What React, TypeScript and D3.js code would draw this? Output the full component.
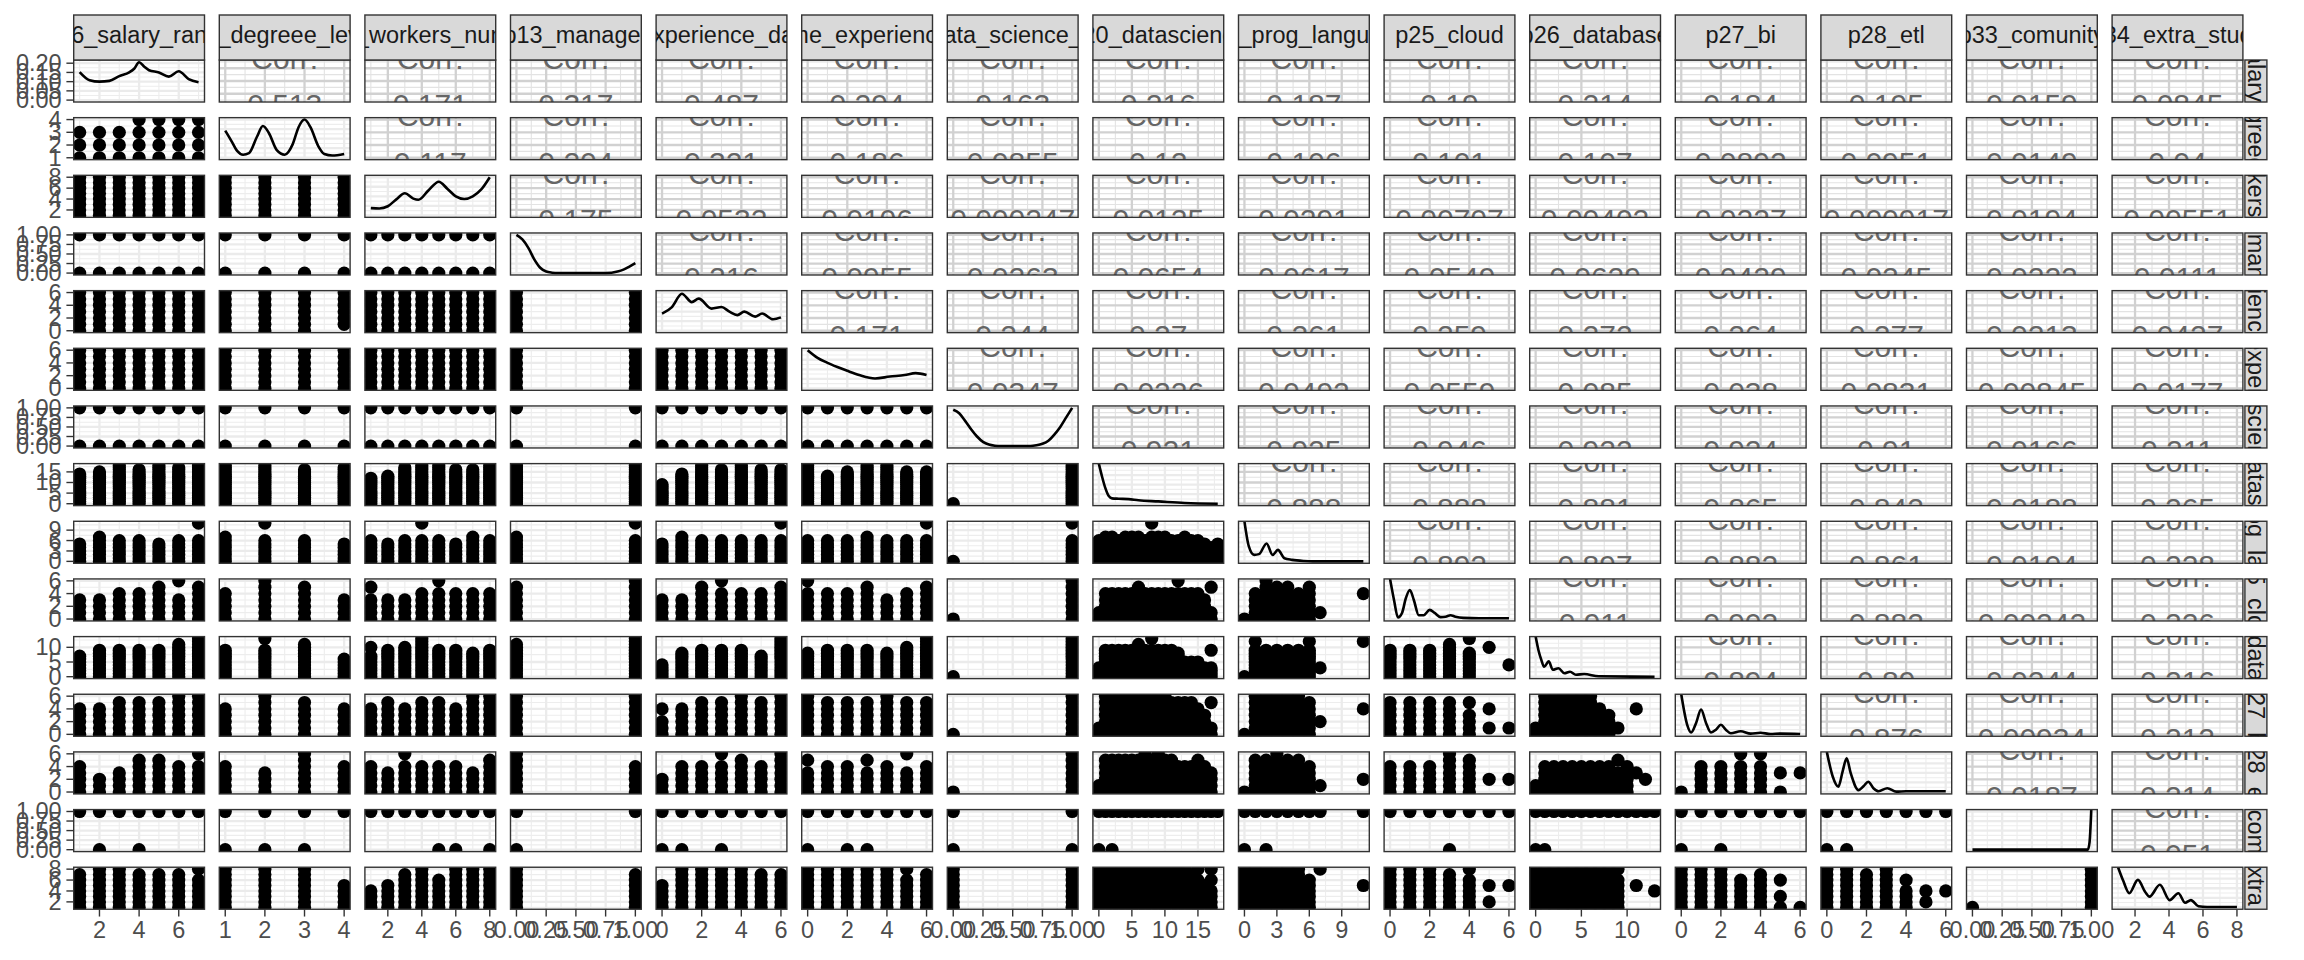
import React from "react";
import * as d3 from "d3";

// ---- variables (facet order) ----
const varNames = [
  "p16_salary_range", "p8_degreee_level", "p10_workers_number", "p13_manager",
  "p17_experience_data_sci", "p14_time_experience_data", "p19_data_science_profes",
  "p20_datascience", "p21_prog_language", "p25_cloud", "p26_database", "p27_bi",
  "p28_etl", "p33_comunity", "p34_extra_study",
];
const varMin = [1, 1, 1, 0, 0, 0, 0, 0, 0, 0, 0, 0, 0, 0, 1];
const varMax = [7, 4, 8, 1, 6, 6, 1, 18, 11, 6, 13, 6, 6, 1, 8];
const varBreaks = [
  [2, 4, 6], [1, 2, 3, 4], [2, 4, 6, 8], [0, 0.25, 0.5, 0.75, 1],
  [0, 2, 4, 6], [0, 2, 4, 6], [0, 0.25, 0.5, 0.75, 1], [0, 5, 10, 15],
  [0, 3, 6, 9], [0, 2, 4, 6], [0, 5, 10], [0, 2, 4, 6], [0, 2, 4, 6],
  [0, 0.25, 0.5, 0.75, 1], [2, 4, 6, 8],
];
const salaryDensityTicks = [0, 0.05, 0.1, 0.15, 0.2];
const salaryDensityMax = 0.207;
const diagBreaks = [0, 0.25, 0.5, 0.75, 1];

// ---- upper triangle: correlations ----
const corrRow1 = ["0.513", "0.171", "0.317", "0.487", "0.294", "0.163", "0.216", "0.187", "0.19", "0.214", "0.184", "0.195", "0.0159", "0.0845"];
const corrRow2 = ["0.117", "0.204", "0.321", "0.186", "0.0855", "0.12", "0.106", "0.101", "0.107", "0.0892", "0.0951", "0.0149", "0.04"];
const corrRow3 = ["0.175", "0.0532", "0.0106", "0.000247", "0.0125", "0.0291", "0.00707", "0.00402", "0.0227", "0.000917", "0.0194", "0.00551"];
const corrRow4 = ["0.216", "0.0955", "0.0263", "0.0654", "0.0617", "0.0549", "0.0629", "0.0429", "0.0245", "0.0222", "0.0111"];
const corrRow5 = ["0.171", "0.244", "0.27", "0.261", "0.259", "0.272", "0.264", "0.277", "0.0213", "0.0427"];
const corrRow6 = ["0.0347", "0.0226", "0.0492", "0.0559", "0.085", "0.038", "0.0831", "0.00845", "0.0177"];
const corrRow7 = ["0.921", "0.925", "0.946", "0.922", "0.924", "0.91", "0.0166", "0.211"];
const corrRow8 = ["0.888", "0.888", "0.881", "0.865", "0.842", "0.0188", "0.265"];
const corrRow9 = ["0.892", "0.897", "0.882", "0.861", "0.0104", "0.228"];
const corrRow10 = ["0.911", "0.902", "0.882", "0.00242", "0.226"];
const corrRow11 = ["0.894", "0.89", "0.0244", "0.216"];
const corrRow12 = ["0.876", "0.00934", "0.212"];
const corrRow13 = ["0.0187", "0.214"];
const corrRow14 = ["0.051"];
const corrRows = [corrRow1, corrRow2, corrRow3, corrRow4, corrRow5, corrRow6, corrRow7, corrRow8, corrRow9, corrRow10, corrRow11, corrRow12, corrRow13, corrRow14];

// ---- lower triangle: observed y values per x value ----
// token per x value: "n" = min..n, "a-b" = range, "+k" = extra value, "x" = none
const lowerDegree = ["3,3,3,4,4,4,4"];
const lowerWorkers = ["8,8,8,8,8,8,8", "8,8,8,8"];
const lowerManager = ["1,1,1,1,1,1,1", "1,1,1,1", "1,1,1,1,1,1,1,1"];
const lowerExpData = ["6,6,6,6,6,6,6", "6,6,6,1-6", "6,6,6,6,6,6,6,6", "6,6"];
const lowerExp = ["6,6,6,6,6,6,6", "6,6,6,6", "6,6,6,6,6,6,6,6", "6,6", "6,6,6,6,6,6,6"];
const lowerDsProf = ["1,1,1,1,1,1,1", "1,1,1,1", "1,1,1,1,1,1,1,1", "1,1", "1,1,1,1,1,1,1", "1,1,1,1,1,1,1"];
const lowerDatascience = ["14,15,18,16,18,17,18", "18,18,16,17", "12,13,17,18,18,16,16,18", "18,18", "9,14,18,16,18,16,16", "18,13,15,18,18,15,15", "0,18"];
const lowerProg = ["5,7,6,6,5,6,6+11", "7,6+11,6,5", "6,5,6,6+11,6,5,7,6", "7,6+11", "5,7,6,6,6,6,6+11", "6,6,6,7,6,6,6+11", "0,6+11",
  "6,7,7,6,7,7,7,6,7+11,7,7,6,6,7,6,6,5,4,5"];
const lowerCloud = ["3,3,4,4,5,3+6,5", "4,6,5,3", "3+5,3,3,4,4+6,4,4,4", "5,6", "3,3,5,4+6,4,4,5", "4+6,4,4,5,3,4,5", "0,6",
  "1,4,4,4,4,4,5,4,4,4,4,4,4+6,4,4,4,3,1+5,x", "0,4,6,5,5,4,5,1-1,x,x,x,4-4"];
const lowerDatabase = ["7,9,9,9,9,11,13", "9,9+13,11,6", "7+10,9,10,13,9,9,8,9", "11,13", "4,8,9,9,9,7,13", "8,9,9,9,8,10,13", "0,13",
  "3,9,9,9,9,9,9+11,9,9+13,9,9,9,8,5,5,5,3,3+9,x", "0,9+12,9,9,9,9,9+12,3-3,x,x,x,12-12", "9,9,9,11,8+13,10-10,4-4"];
const lowerBi = ["4,4,5,5,5,6,6", "4,6,5,4", "4,5,4,5,5,4,6,6", "6,6", "2+4,4,5,5,6,5,6", "6,5,5,5,6,5,5", "0,6",
  "1,6,6,6,6,6,6,6,6,6,6,5,5,5,5,4,3,1+5,x", "0,6,6,6,6,6,5,2-2,x,x,x,4-4", "5,5,5,5,3+5,1-1+4,1-1",
  "1,6,6,6,6,6,6,4,3,1-1,x,4-4,x,x"];
const lowerEtl = ["4,2,3,5,5,4,4+6", "4,3,6,4", "4,3,4+6,4,4,4,3,5", "6,4", "2,4,4,4+6,5,4,6", "3+5,4,4,3+5,4,3+6,4", "0,6",
  "1,5,5,5,5,5,5,5+6,5,6,5,5,4,4,4,5,4,3,x", "0,5,5,6,5,5,4,1-1,x,x,x,2-2", "4,4,4,6,5,2-2,2-2",
  "1,4,4,4,4,4,4,4,4,3+5,4,3-3,2-2,x", "0,4,4,4+6,4+6,0+3,3-3"];
const lowerCommunity = ["1-1,1,1-1,1,1-1,1-1,1-1", "1,1,1,1-1", "1-1,1-1,1-1,1-1,1,1,1-1,1", "1,1-1", "1,1,1-1,1,1-1,1-1,1-1",
  "1,1-1,1,1,1-1,1-1,1-1", "1,1",
  "1,1-1,1,1-1,1-1,1-1,1-1,1-1,1-1,1-1,1-1,1-1,1-1,1-1,1-1,1-1,1-1,1-1,1-1",
  "1,1-1,1,1-1,1-1,1-1,1-1,1-1,x,x,x,1-1", "1-1,1-1,1-1,1,1-1,1-1,1-1",
  "1,1,1-1,1-1,1-1,1-1,1-1,1-1,1-1,1-1,1-1,1-1,1-1,1-1", "1,1-1,1,1-1,1-1,1-1,1-1", "1,1,1-1,1-1,1-1,1-1,1-1"];
const lowerExtra = ["7,8,8,7,7,7,6+8", "8,8,8,5", "4,5,7,8,6,8,8,8", "8,7", "5,8,8,8,8,7,7", "8,8,8,8,8,6+8,7", "8,8",
  "8,8,8,8,8,8,8,8,8,8,8,8,8,8,7,6+8,5,4+6+8,x", "8,8,8,8,8,8,6,8-8,x,x,x,5-5", "8,8,8,7,6+8,2-2+5,5-5",
  "8,8,8,8,8,8,8,8,8,6+8,x,5-5,x,4-4", "8,8,8,6,7,1+3+6,1", "8,8,7,8,4+6,2-2+4,4-4", "1,8"];
const lowerRows: (string[] | null)[] = [null, lowerDegree, lowerWorkers, lowerManager, lowerExpData, lowerExp, lowerDsProf,
  lowerDatascience, lowerProg, lowerCloud, lowerDatabase, lowerBi, lowerEtl, lowerCommunity, lowerExtra];

// ---- diagonal densities: [x, density] (first in real units, others relative to max) ----
const densSalary = [[1, 0.152], [1.5, 0.108], [2, 0.1], [2.5, 0.104], [3, 0.13], [3.5, 0.15], [3.75, 0.17], [4, 0.205], [4.25, 0.182], [4.5, 0.162], [5, 0.15], [5.5, 0.127], [6, 0.156], [6.5, 0.114], [7, 0.097]];
const densDegree = [[1, 0.71], [1.15, 0.45], [1.3, 0.18], [1.45, 0.08], [1.6, 0.12], [1.8, 0.55], [1.95, 0.83], [2.1, 0.65], [2.3, 0.2], [2.5, 0.08], [2.7, 0.35], [2.85, 0.8], [3, 1.0], [3.15, 0.8], [3.35, 0.3], [3.5, 0.1], [3.7, 0.06], [4, 0.1]];
const densWorkers = [[1, 0.19], [1.5, 0.18], [2, 0.24], [2.5, 0.42], [3, 0.58], [3.5, 0.44], [3.8, 0.41], [4.4, 0.66], [5, 0.88], [5.5, 0.7], [6, 0.5], [6.5, 0.43], [7, 0.5], [7.5, 0.68], [8, 1.0]];
const densManager = [[0, 1.0], [0.05, 0.88], [0.1, 0.66], [0.15, 0.36], [0.2, 0.14], [0.25, 0.04], [0.3, 0.01], [0.35, 0], [0.7, 0], [0.8, 0.01], [0.85, 0.04], [0.9, 0.09], [0.95, 0.17], [1, 0.26]];
const densExpData = [[0, 0.45], [0.5, 0.62], [1, 0.97], [1.5, 0.75], [1.85, 0.84], [2.5, 0.58], [3, 0.62], [3.4, 0.5], [3.8, 0.41], [4.15, 0.5], [4.7, 0.37], [5.05, 0.45], [5.6, 0.3], [6, 0.35]];
const densExp = [[0, 1.0], [0.5, 0.8], [1, 0.67], [1.5, 0.56], [2, 0.46], [2.6, 0.35], [3.4, 0.26], [4.15, 0.31], [4.9, 0.35], [5.45, 0.4], [6, 0.35]];
const densDsProf = [[0, 0.95], [0.05, 0.86], [0.1, 0.66], [0.15, 0.44], [0.2, 0.25], [0.25, 0.11], [0.3, 0.04], [0.35, 0.01], [0.4, 0], [0.65, 0], [0.7, 0.02], [0.75, 0.06], [0.8, 0.14], [0.85, 0.3], [0.9, 0.5], [0.95, 0.75], [1, 1.0]];
const densDatascience = [[0, 1.05], [0.5, 0.7], [1, 0.4], [1.5, 0.2], [2, 0.14], [3, 0.13], [4.5, 0.12], [6, 0.09], [9, 0.06], [13, 0.02], [18, 0.0]];
const densProg = [[0, 1.05], [0.4, 0.4], [0.9, 0.17], [1.35, 0.19], [2.05, 0.47], [2.6, 0.17], [3.1, 0.3], [3.7, 0.08], [4.4, 0.04], [5.5, 0.01], [6.3, 0], [11, 0]];
const densCloud = [[0, 1.05], [0.2, 0.5], [0.4, 0.04], [0.6, 0.15], [0.8, 0.55], [1.0, 0.76], [1.2, 0.5], [1.45, 0.1], [1.7, 0.1], [2.0, 0.24], [2.25, 0.16], [2.55, 0.05], [2.8, 0.06], [3.05, 0.1], [3.3, 0.06], [3.7, 0.03], [4.5, 0.02], [6, 0.02]];
const densDatabase = [[0, 1.05], [0.3, 0.7], [0.62, 0.44], [0.93, 0.26], [1.43, 0.4], [1.88, 0.18], [2.5, 0.22], [3.14, 0.09], [3.76, 0.13], [4.4, 0.05], [5.3, 0.07], [6.9, 0.01], [13, 0]];
const densBi = [[0, 1.05], [0.3, 0.25], [0.5, 0.05], [0.75, 0.3], [1, 0.65], [1.25, 0.3], [1.5, 0.05], [1.75, 0.12], [2, 0.25], [2.25, 0.12], [2.5, 0.03], [3, 0.08], [3.5, 0.02], [4, 0.04], [4.5, 0.01], [5, 0.02], [6, 0.01]];
const densEtl = [[0, 1.05], [0.3, 0.4], [0.58, 0.14], [0.8, 0.55], [1.0, 0.88], [1.2, 0.5], [1.6, 0.05], [1.85, 0.15], [2.09, 0.27], [2.35, 0.1], [2.61, 0.02], [3.05, 0.1], [3.5, 0.01], [4, 0.02], [6, 0.02]];
const densCommunity = [[0, 0], [0.97, 0], [0.985, 0.2], [1, 1.1]];
const densExtra = [[1, 1.05], [1.3, 0.7], [1.66, 0.37], [2.17, 0.72], [2.6, 0.4], [2.85, 0.28], [3.46, 0.59], [4.04, 0.19], [4.55, 0.37], [4.95, 0.12], [5.29, 0.19], [5.73, 0.03], [6.25, 0.01], [8, 0.01]];
const diagDensities = [densSalary, densDegree, densWorkers, densManager, densExpData, densExp, densDsProf, densDatascience,
  densProg, densCloud, densDatabase, densBi, densEtl, densCommunity, densExtra];

// ---- layout ----
const W = 2304, H = 960;
const LEFT = 73.7, TOP = 60, PW = 130.8, PH = 42, GX = 14.8, GY = 15.66;
const FONT = "'Liberation Sans', Arial, Helvetica, sans-serif";
const AXIS_FS = 23.5, STRIP_FS = 23.5, CORR_FS = 30;
const POINT_R = 6.6;

function parseColumn(tok: string, lo: number): number[] {
  if (tok === "x" || tok === "") return [];
  const out: number[] = [];
  tok.split("+").forEach((p, k) => {
    let a: number, b: number;
    if (p.includes("-")) { const s = p.split("-").map(Number); a = s[0]; b = s[1]; }
    else if (k === 0) { a = lo; b = +p; }
    else { a = +p; b = +p; }
    for (let v = a; v <= b; v++) out.push(v);
  });
  return out;
}

function minorBreaks(breaks: number[], dom: number[]): number[] {
  if (breaks.length < 2) return [];
  const step = breaks[1] - breaks[0];
  const out: number[] = [];
  for (let v = breaks[0] - step / 2; v <= dom[1] + 1e-9; v += step) if (v >= dom[0] - 1e-9) out.push(v);
  return out;
}

const pad = (lo: number, hi: number) => { const p = (hi - lo) * 0.05; return [lo - p, hi + p]; };

export default function App() {
  const n = varNames.length;
  const colX = (j: number) => LEFT + j * (PW + GX);
  const rowY = (i: number) => TOP + i * (PH + GY);
  const xs = varNames.map((_, j) => d3.scaleLinear().domain(pad(varMin[j], varMax[j])).range([colX(j), colX(j) + PW]));
  const ys = varNames.map((_, i) => d3.scaleLinear().domain(pad(varMin[i], varMax[i])).range([rowY(i) + PH, rowY(i)]));
  const dys = varNames.map((_, i) => d3.scaleLinear().domain(i === 0 ? pad(0, salaryDensityMax) : pad(0, 1)).range([rowY(i) + PH, rowY(i)]));
  const fmt = (k: number, v: number) => (varMax[k] - varMin[k] === 1 ? d3.format(".2f")(v) : String(v));
  const stripRightX = colX(n - 1) + PW + 2;
  const stripRightW = 22;

  const defs: React.ReactNode[] = [];
  const panels: React.ReactNode[] = [];

  for (let i = 0; i < n; i++) {
    for (let j = 0; j < n; j++) {
      const x0 = colX(j), y0 = rowY(i);
      const id = `clip-${i}-${j}`;
      defs.push(<clipPath id={id} key={id}><rect x={x0} y={y0} width={PW} height={PH} /></clipPath>);
      const xsc = xs[j];
      const ysc = i === j ? dys[i] : ys[i];
      const yb = i === j ? (i === 0 ? salaryDensityTicks : diagBreaks) : varBreaks[i];
      const upper = j > i;
      const majC = upper ? "#D1D1D1" : "#EBEBEB";
      const minC = upper ? "#E3E3E3" : "#EDEDED";
      const content: React.ReactNode[] = [];

      if (i === j) {
        const line = d3.line<number[]>().x(d => xsc(d[0])).y(d => ysc(d[1])).curve(d3.curveMonotoneX);
        content.push(<path key="d" d={line(diagDensities[i]) || ""} fill="none" stroke="#000" strokeWidth={2.6} />);
      } else if (i > j) {
        const toks = (lowerRows[i] as string[])[j].split(",");
        toks.forEach((t, k) => {
          const xv = varMin[j] + k;
          parseColumn(t, varMin[i]).forEach(yv => {
            content.push(<circle key={`${k}-${yv}`} cx={xsc(xv)} cy={ysc(yv)} r={POINT_R} fill="#000" />);
          });
        });
      } else {
        const cx = x0 + PW / 2, cy = y0 + PH / 2;
        const val = corrRows[i][j - i - 1];
        content.push(
          <text key="c1" x={cx} y={cy - 12.5} textAnchor="middle" fontSize={CORR_FS} fill="#666">Corr:</text>,
          <text key="c2" x={cx} y={cy + 34} textAnchor="middle" fontSize={CORR_FS} fill="#666">{val}</text>
        );
      }

      panels.push(
        <g key={id}>
          <rect x={x0} y={y0} width={PW} height={PH} fill="#fff" />
          <g clipPath={`url(#${id})`}>
            {minorBreaks(varBreaks[j], xsc.domain()).map(v => <line key={"mx" + v} x1={xsc(v)} x2={xsc(v)} y1={y0} y2={y0 + PH} stroke={minC} strokeWidth={1.1} />)}
            {minorBreaks(yb, ysc.domain()).map(v => <line key={"my" + v} x1={x0} x2={x0 + PW} y1={ysc(v)} y2={ysc(v)} stroke={minC} strokeWidth={1.1} />)}
            {varBreaks[j].map(v => <line key={"Mx" + v} x1={xsc(v)} x2={xsc(v)} y1={y0} y2={y0 + PH} stroke={majC} strokeWidth={2.3} />)}
            {yb.map(v => <line key={"My" + v} x1={x0} x2={x0 + PW} y1={ysc(v)} y2={ysc(v)} stroke={majC} strokeWidth={2.3} />)}
            {content}
          </g>
          <rect x={x0} y={y0} width={PW} height={PH} fill="none" stroke="#333" strokeWidth={1.4} />
        </g>
      );
    }
  }

  // strips
  const strips: React.ReactNode[] = [];
  for (let j = 0; j < n; j++) {
    const x0 = colX(j);
    const id = `st-${j}`;
    defs.push(<clipPath id={id} key={id}><rect x={x0} y={15} width={PW} height={45} /></clipPath>);
    strips.push(
      <g key={id}>
        <rect x={x0} y={15} width={PW} height={45} fill="#D9D9D9" stroke="#333" strokeWidth={1.4} />
        <text x={x0 + PW / 2} y={42.5} textAnchor="middle" fontSize={STRIP_FS} fill="#1A1A1A" clipPath={`url(#${id})`}>{varNames[j]}</text>
      </g>
    );
  }
  for (let i = 0; i < n; i++) {
    const y0 = rowY(i);
    const id = `sr-${i}`;
    defs.push(<clipPath id={id} key={id}><rect x={stripRightX} y={y0} width={stripRightW} height={PH} /></clipPath>);
    const cx = stripRightX + stripRightW / 2, cy = y0 + PH / 2;
    strips.push(
      <g key={id}>
        <rect x={stripRightX} y={y0} width={stripRightW} height={PH} fill="#D9D9D9" stroke="#333" strokeWidth={1.4} />
        <g clipPath={`url(#${id})`}>
          <text transform={`translate(${cx},${cy}) rotate(90)`} textAnchor="middle" dominantBaseline="central" fontSize={STRIP_FS} fill="#1A1A1A">{varNames[i]}</text>
        </g>
      </g>
    );
  }

  // axes
  const axes: React.ReactNode[] = [];
  for (let i = 0; i < n; i++) {
    const sc = i === 0 ? dys[0] : ys[i];
    const br = i === 0 ? salaryDensityTicks : varBreaks[i];
    br.forEach(v => {
      const y = sc(v);
      axes.push(<line key={`lt${i}-${v}`} x1={LEFT - 7.3} x2={LEFT} y1={y} y2={y} stroke="#333" strokeWidth={1.4} />);
      axes.push(<text key={`ll${i}-${v}`} x={LEFT - 12} y={y} textAnchor="end" dominantBaseline="central" fontSize={AXIS_FS} fill="#4D4D4D">{i === 0 ? d3.format(".2f")(v) : fmt(i, v)}</text>);
    });
  }
  const bottom = rowY(n - 1) + PH;
  for (let j = 0; j < n; j++) {
    varBreaks[j].forEach(v => {
      const x = xs[j](v);
      axes.push(<line key={`bt${j}-${v}`} x1={x} x2={x} y1={bottom} y2={bottom + 7.3} stroke="#333" strokeWidth={1.4} />);
      axes.push(<text key={`bl${j}-${v}`} x={x} y={bottom + 29} textAnchor="middle" fontSize={AXIS_FS} fill="#4D4D4D">{fmt(j, v)}</text>);
    });
  }

  return (
    <svg width={W} height={H} style={{ position: "absolute", left: 0, top: 0, background: "#fff" }} fontFamily={FONT}>
      <defs>{defs}</defs>
      <rect x={0} y={0} width={W} height={H} fill="#fff" />
      {panels}
      {strips}
      {axes}
    </svg>
  );
}
